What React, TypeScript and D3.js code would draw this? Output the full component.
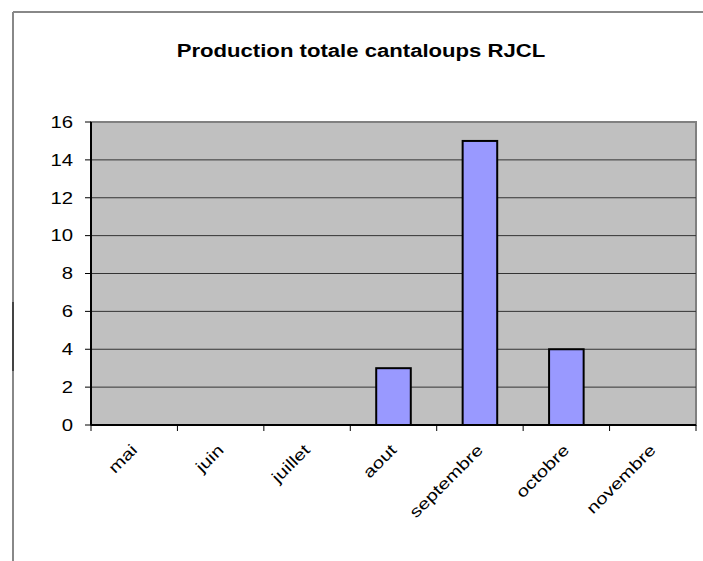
import React from "react";
import * as d3 from "d3";

const categories = ["mai", "juin", "juillet", "aout", "septembre", "octobre", "novembre"];
const values = [0, 0, 0, 3, 15, 4, 0];
const yTicks = [0, 2, 4, 6, 8, 10, 12, 14, 16];
const title = "Production totale cantaloups RJCL";

export default function App() {
  const W = 703, H = 561;
  const left = 91, right = 696, top = 122, bottom = 425;
  const x = d3.scaleBand<string>().domain(categories).range([left, right]).paddingInner(0.6).paddingOuter(0.3);
  const xOuter = d3.scaleBand<string>().domain(categories).range([left, right]);
  const y = d3.scaleLinear().domain([0, 16]).range([bottom, top]);
  const font = "Arial, 'Liberation Sans', sans-serif";
  return (
    <svg width={W} height={H} style={{ position: "absolute", left: 0, top: 0 }} fontFamily={font}>
      <rect x={0} y={0} width={W} height={H} fill="#fff" />
      {/* outer frame */}
      <line x1={13} y1={12} x2={W + 2} y2={12} stroke="#888" strokeWidth={2} />
      <line x1={13} y1={12} x2={13} y2={H + 2} stroke="#888" strokeWidth={2} />
      <line x1={13} y1={302} x2={13} y2={371} stroke="#444" strokeWidth={2} />
      <text transform={`translate(361,57) scale(1.23,1)`} textAnchor="middle" fontWeight="bold" fontSize={18}>{title}</text>
      {/* plot area */}
      <rect x={left} y={top} width={right - left} height={bottom - top} fill="#C0C0C0" stroke="#808080" strokeWidth={2} />
      {yTicks.filter(t => t > 0 && t < 16).map(t => (
        <line key={t} x1={left} x2={right} y1={y(t)} y2={y(t)} stroke="#333" strokeWidth={1} />
      ))}
      {categories.map((c, i) => values[i] > 0 ? (
        <rect key={c} x={x(c)} y={y(values[i])} width={x.bandwidth()} height={y(0) - y(values[i])}
          fill="#9999FF" stroke="#000" strokeWidth={2} />
      ) : null)}
      {/* axes */}
      <line x1={left} x2={left} y1={top} y2={bottom} stroke="#000" strokeWidth={2} />
      <line x1={left} x2={right} y1={bottom} y2={bottom} stroke="#000" strokeWidth={2} />
      {yTicks.map(t => (
        <g key={t}>
          <line x1={left - 6} x2={left} y1={y(t)} y2={y(t)} stroke="#000" strokeWidth={1} />
          <text transform={`translate(73,${y(t)}) scale(1.27,1)`} dy="0.36em" textAnchor="end" fontSize={16}>{t}</text>
        </g>
      ))}
      {categories.map(c => (
        <line key={c} x1={xOuter(c)!} x2={xOuter(c)!} y1={bottom} y2={bottom + 6} stroke="#000" strokeWidth={1} />
      ))}
      <line x1={right} x2={right} y1={bottom} y2={bottom + 6} stroke="#000" strokeWidth={1} />
      {categories.map(c => {
        const cx = xOuter(c)! + xOuter.bandwidth() / 2;
        return (
          <text key={c} transform={`translate(${cx + 4},${451}) rotate(-45) scale(1.27,1)`} textAnchor="end" fontSize={16}>{c}</text>
        );
      })}
    </svg>
  );
}
